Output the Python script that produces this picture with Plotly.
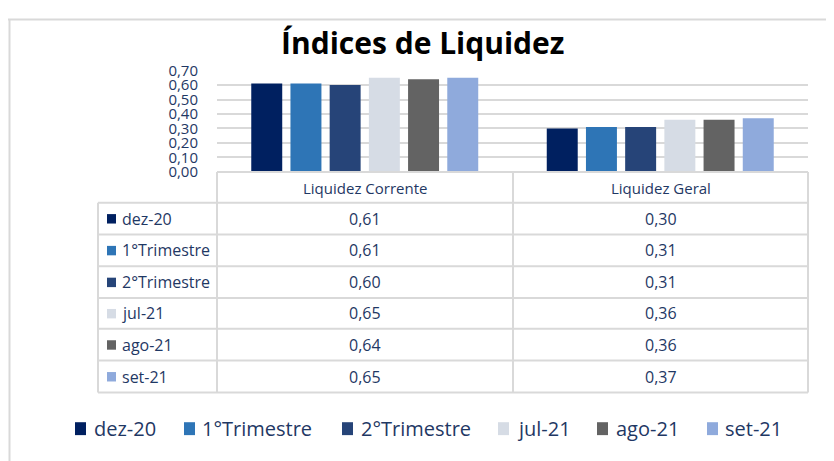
import plotly.graph_objects as go

# ---------------- data ----------------
categories = ["Liquidez Corrente", "Liquidez Geral"]
series_names = ["dez-20", "1°Trimestre", "2°Trimestre", "jul-21", "ago-21", "set-21"]
liquidez_corrente = [0.61, 0.61, 0.60, 0.65, 0.64, 0.65]
liquidez_geral = [0.30, 0.31, 0.31, 0.36, 0.36, 0.37]
colors = ["#002060", "#2E75B6", "#264478", "#D6DCE5", "#636363", "#8FAADC"]
tick_values = [0.0, 0.1, 0.2, 0.3, 0.4, 0.5, 0.6, 0.7]
title_text = "Índices de Liquidez"

# ---------------- layout helpers ----------------
# mapping from target-picture pixels to figure paper coordinates
X_OFF = 8
Y_OFF, Y_SCALE = 16.1, 0.963
W, H = 826, 461
FONT = "'Open Sans', Lato, sans-serif"
TXT = "#1F3864"
GRID = "#D9D9D9"

def px(x):
    return (x - X_OFF) / W

def py(y):
    return 1 - ((y - Y_OFF) / Y_SCALE) / H

plot_x0, plot_x1 = 217, 808
plot_y_top, plot_y_bot = 68, 170
table_left = 98
col_mid = 513
row_edges = [201, 233, 265, 297, 328, 360, 392]

fig = go.Figure()
values_by_series = [[c, g] for c, g in zip(liquidez_corrente, liquidez_geral)]
for name, vals, col in zip(series_names, values_by_series, colors):
    fig.add_trace(go.Bar(name=name, x=categories, y=vals, marker=dict(color=col, line=dict(width=0)),
                         showlegend=False, hoverinfo="x+y+name"))

shapes = []
annotations = []

def line(x0, y0, x1, y1, color=GRID, width=2):
    shapes.append(dict(type="line", xref="paper", yref="paper", x0=px(x0), y0=py(y0), x1=px(x1), y1=py(y1),
                       line=dict(color=color, width=width), layer="above"))

# outer chart border (clipped at right / bottom)
shapes.append(dict(type="line", xref="paper", yref="paper", x0=px(8), x1=1.0, y0=0.999, y1=0.999,
                   line=dict(color=GRID, width=2), layer="above"))
line(9.5, 17, 9.5, 470, width=2)

# table frame
line(plot_x0, plot_y_bot, plot_x1, plot_y_bot)
for yy in row_edges:
    line(table_left, yy, plot_x1, yy)
line(plot_x0, plot_y_bot, plot_x0, row_edges[-1])
line(col_mid, plot_y_bot, col_mid, row_edges[-1])
line(plot_x1, plot_y_bot, plot_x1, row_edges[-1])
line(table_left, row_edges[0], table_left, row_edges[-1])

col_centers = [(plot_x0 + col_mid) / 2, (col_mid + plot_x1) / 2]
# header
for cx, cat in zip(col_centers, categories):
    annotations.append(dict(xref="paper", yref="paper", x=px(cx), y=py(186), text=cat, showarrow=False,
                            xanchor="center", yanchor="middle", font=dict(family=FONT, size=15, color=TXT)))
# rows
for i, (name, col) in enumerate(zip(series_names, colors)):
    yc = (row_edges[i] + row_edges[i + 1]) / 2
    shapes.append(dict(type="rect", xref="paper", yref="paper", x0=px(107), x1=px(116),
                       y0=py(yc - 4.5), y1=py(yc + 5), fillcolor=col, line=dict(width=0), layer="above"))
    annotations.append(dict(xref="paper", yref="paper", x=px(120), y=py(yc), text=name, showarrow=False,
                            xanchor="left", yanchor="middle", font=dict(family=FONT, size=16, color=TXT)))
    for cx, v in zip(col_centers, values_by_series[i]):
        annotations.append(dict(xref="paper", yref="paper", x=px(cx), y=py(yc),
                                text=f"{v:.2f}".replace(".", ","), showarrow=False,
                                xanchor="center", yanchor="middle", font=dict(family=FONT, size=16, color=TXT)))

# bottom legend (manual)
legend_key_x = [75, 184, 342, 498, 597, 707]
legend_text_x = [92, 200, 359, 515, 614, 723]
for name, col, kx, tx in zip(series_names, colors, legend_key_x, legend_text_x):
    shapes.append(dict(type="rect", xref="paper", yref="paper", x0=px(kx), x1=px(kx + 11),
                       y0=py(435), y1=py(422), fillcolor=col, line=dict(width=0), layer="above"))
    annotations.append(dict(xref="paper", yref="paper", x=px(tx), y=py(428.5), text=name, showarrow=False,
                            xanchor="left", yanchor="middle", font=dict(family=FONT, size=20, color=TXT)))

# title
annotations.append(dict(xref="paper", yref="paper", x=px(422), y=py(40), text=f"<b>{title_text}</b>",
                        showarrow=False, xanchor="center", yanchor="middle",
                        font=dict(family=FONT, size=30, color="#000000")))

fig.update_layout(
    width=W, height=H,
    margin=dict(l=0, r=0, t=0, b=0),
    paper_bgcolor="white", plot_bgcolor="white",
    separators=",.",
    barmode="group", bargap=0.204, bargroupgap=0.21,
    xaxis=dict(domain=[px(plot_x0), px(plot_x1)], showticklabels=False, showgrid=False,
               zeroline=False, showline=False, ticks=""),
    yaxis=dict(domain=[py(plot_y_bot), py(plot_y_top)], range=[0, 0.7001], tickvals=tick_values,
               tickformat=".2f", showgrid=True, gridcolor=GRID, gridwidth=2, zeroline=False,
               showline=False, ticks="", ticklabelstandoff=18,
               tickfont=dict(family=FONT, size=15, color=TXT)),
    shapes=shapes, annotations=annotations,
    showlegend=False,
)

fig.write_html("out.html")
